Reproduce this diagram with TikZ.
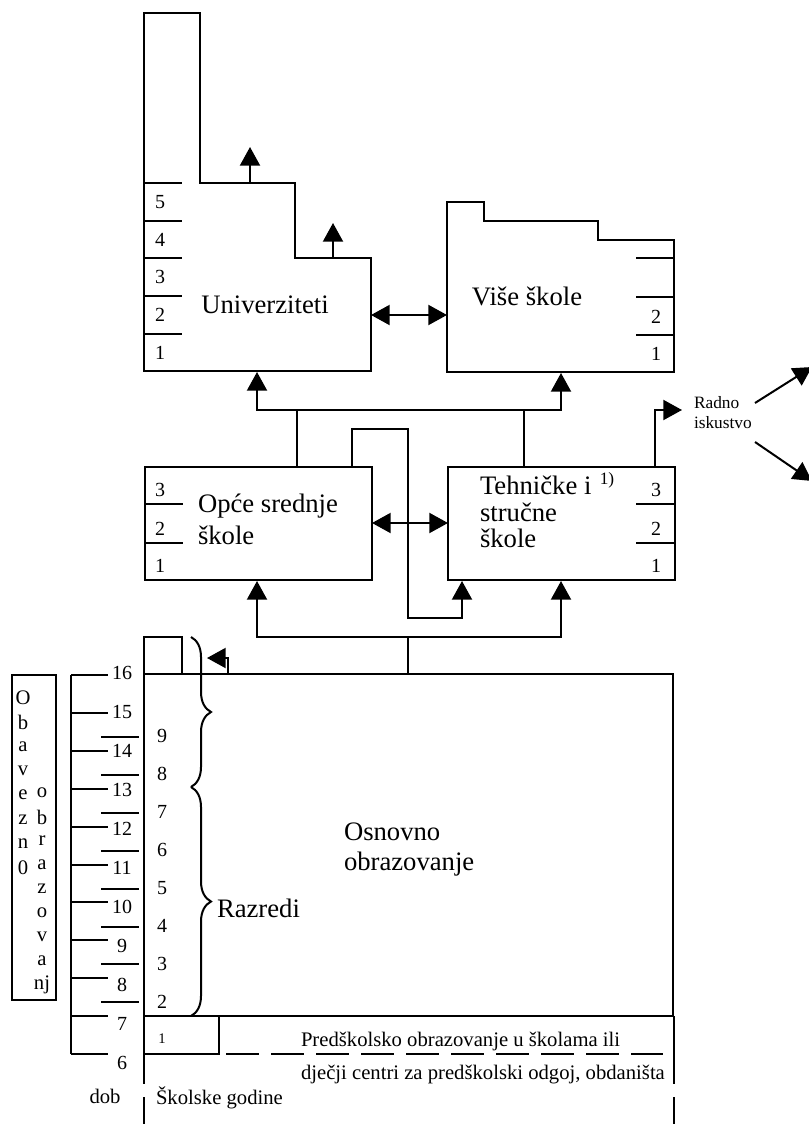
\documentclass[tikz,border=0pt]{standalone}
\usepackage{fontspec}
\setmainfont{Liberation Serif}
\usetikzlibrary{arrows.meta,decorations.pathreplacing}

\begin{document}
\begin{tikzpicture}[x=0.75pt, y=-0.75pt, line width=1.5pt,
    tip/.style={-{Triangle[length=14pt,width=15pt]}},
    twotip/.style={{Triangle[length=14pt,width=15pt]}-{Triangle[length=14pt,width=15pt]}},
    num/.style={font=\fontsize{15}{17}\selectfont, inner sep=0pt},
    big/.style={font=\fontsize{20}{24}\selectfont, inner sep=0pt, align=left},
    small/.style={font=\fontsize{15.5}{18}\selectfont, inner sep=0pt}]

    \useasboundingbox (0,0) rectangle (809,1124);

    %% Education system diagram

    % Universities
    \draw (144,13) -- (200,13) -- (200,183) -- (295,183) -- (295,258) -- (371,258) -- (371,371) -- (144,371) -- cycle;
    \foreach \y in {183,221,258,296,334} \draw (144,\y) -- (182,\y);
    \foreach \n/\y in {5/202,4/240,3/277,2/315,1/353} \node[num] (uy\n) at (160,\y) {\n};
    \node[big] (univ) at (265,305) {Univerziteti};
    \coordinate (U1) at (250,183);
    \coordinate (U2) at (333,258);
    \draw[tip] (U1) -- ++(0,-36);
    \draw[tip] (U2) -- ++(0,-35);

    % Higher schools
    \draw (447,202) -- (484,202) -- (484,221) -- (598,221) -- (598,240) -- (674,240) -- (674,372) -- (447,372) -- cycle;
    \foreach \y in {258,297,335} \draw (636,\y) -- (674,\y);
    \node[num] (vy2) at (656,317) {2};
    \node[num] (vy1) at (656,354) {1};
    \node[big] (vise) at (527,296) {Više škole};
    \coordinate (UR) at (371,315);
    \coordinate (VL) at (447,315);
    \draw[twotip] (UR) -- (VL);

    % Secondary schools
    \draw (145,467) rectangle (372,580);
    \foreach \y in {504,543} \draw (145,\y) -- (183,\y);
    \foreach \n/\y in {3/490,2/529,1/566} \node[num] (oy\n) at (160,\y) {\n};
    \node[big, anchor=west, font=\fontsize{20}{24}\selectfont] (opce) at (197,519) {Opće srednje\\škole};

    \draw (448,467) rectangle (675,580);
    \foreach \y in {504,543} \draw (636,\y) -- (675,\y);
    \foreach \n/\y in {3/490,2/529,1/566} \node[num] (ty\n) at (656,\y) {\n};
    \node[big, anchor=west, font=\fontsize{20}{20}\selectfont] (tehn) at (479,512) {Tehničke i\\stručne\\škole};
    \node[font=\fontsize{13}{15}\selectfont, inner sep=0pt] (note) at (607,480) {1)};

    \coordinate (OR) at (372,523);
    \coordinate (TL) at (448,523);
    \draw[twotip] (OR) -- (TL);

    % Secondary to higher level
    \coordinate (S) at (409,410);
    \draw (297,467) -- (297,410);
    \draw (524,467) -- (524,410);
    \draw[tip] (S) -| (257,372);
    \draw[tip] (S) -| (561,373);

    % Transfer loop
    \draw[tip] (352,467) |- (408,429) |- (462,618) -- (462,581);

    % Work experience
    \draw[tip] (655,467) |- (682,410);
    \node[anchor=west, align=left, inner sep=0pt, font=\fontsize{13}{15}\selectfont] (radno) at (693,413) {Radno\\iskustvo};
    \draw[tip] (755,403) -- (812,367);
    \draw[tip] (755,442) -- (812,481);

    % Primary education
    \draw (144,674) rectangle (673,1016);
    \draw (144,637) rectangle (182,674);
    \node[big, anchor=west, font=\fontsize{20}{22.5}\selectfont] (osn) at (343,850) {Osnovno\\obrazovanje};
    \coordinate (P) at (408,637);
    \draw (408,674) -- (P);
    \draw[tip] (P) -| (257,581);
    \draw[tip] (P) -| (561,581);
    \draw[tip] (228,674) |- (207,658);

    % Grades
    \draw[decorate, decoration={brace, amplitude=15pt}] (191,637) -- (191,787);
    \draw[decorate, decoration={brace, amplitude=15pt}] (191,787) -- (191,1016);
    \node[big, anchor=west] (razredi) at (216,908) {Razredi};
    \foreach \i in {0,...,7} \draw (101,{737+\i*37.9}) -- (139,{737+\i*37.9});
    \foreach \g [count=\i from 0] in {9,8,...,2} \node[num] (g\g) at (162,{736+\i*38}) {\g};

    % Age
    \draw (71,675) -- (71,1054);
    \foreach \i in {0,...,10} \draw (71,{675+\i*37.9}) -- (108,{675+\i*37.9});
    \foreach \a [count=\i from 0] in {16,15,...,6} \node[num] (a\a) at (122,{673+\i*39}) {\a};
    \node[small] (dob) at (105,1096) {dob};

    % Compulsory education
    \draw (12,675) rectangle (56,1000);
    \foreach \c [count=\i from 0] in {O,b,a,v,e,z,n,0} \node[small] (ca\i) at (23,{698+\i*24.3}) {\c};
    \foreach \c [count=\i from 0] in {o,b,r,a,z,o,v,a,nj} \node[small] (cb\i) at (42,{793+\i*24}) {\c};

    % Preschool
    \draw (144,1016) rectangle (219,1054);
    \node[font=\fontsize{11}{13}\selectfont, inner sep=0pt] (pre1) at (162,1039) {1};
    \draw[dash pattern=on 24.75pt off 9pt] (226,1054) -- (663,1054);
    \draw[dash pattern=on 51pt off 10pt] (144,1016) -- (144,1124);
    \draw[dash pattern=on 51pt off 10pt] (674,1016) -- (674,1124);
    \node[small, anchor=west] (pre) at (300,1041) {Predškolsko obrazovanje u školama ili};
    \node[small, anchor=west] (cen) at (300,1075) {dječji centri za predškolski odgoj, obdaništa};
    \node[small, anchor=west] (god) at (155,1098) {Školske godine};

\end{tikzpicture}
\end{document}
